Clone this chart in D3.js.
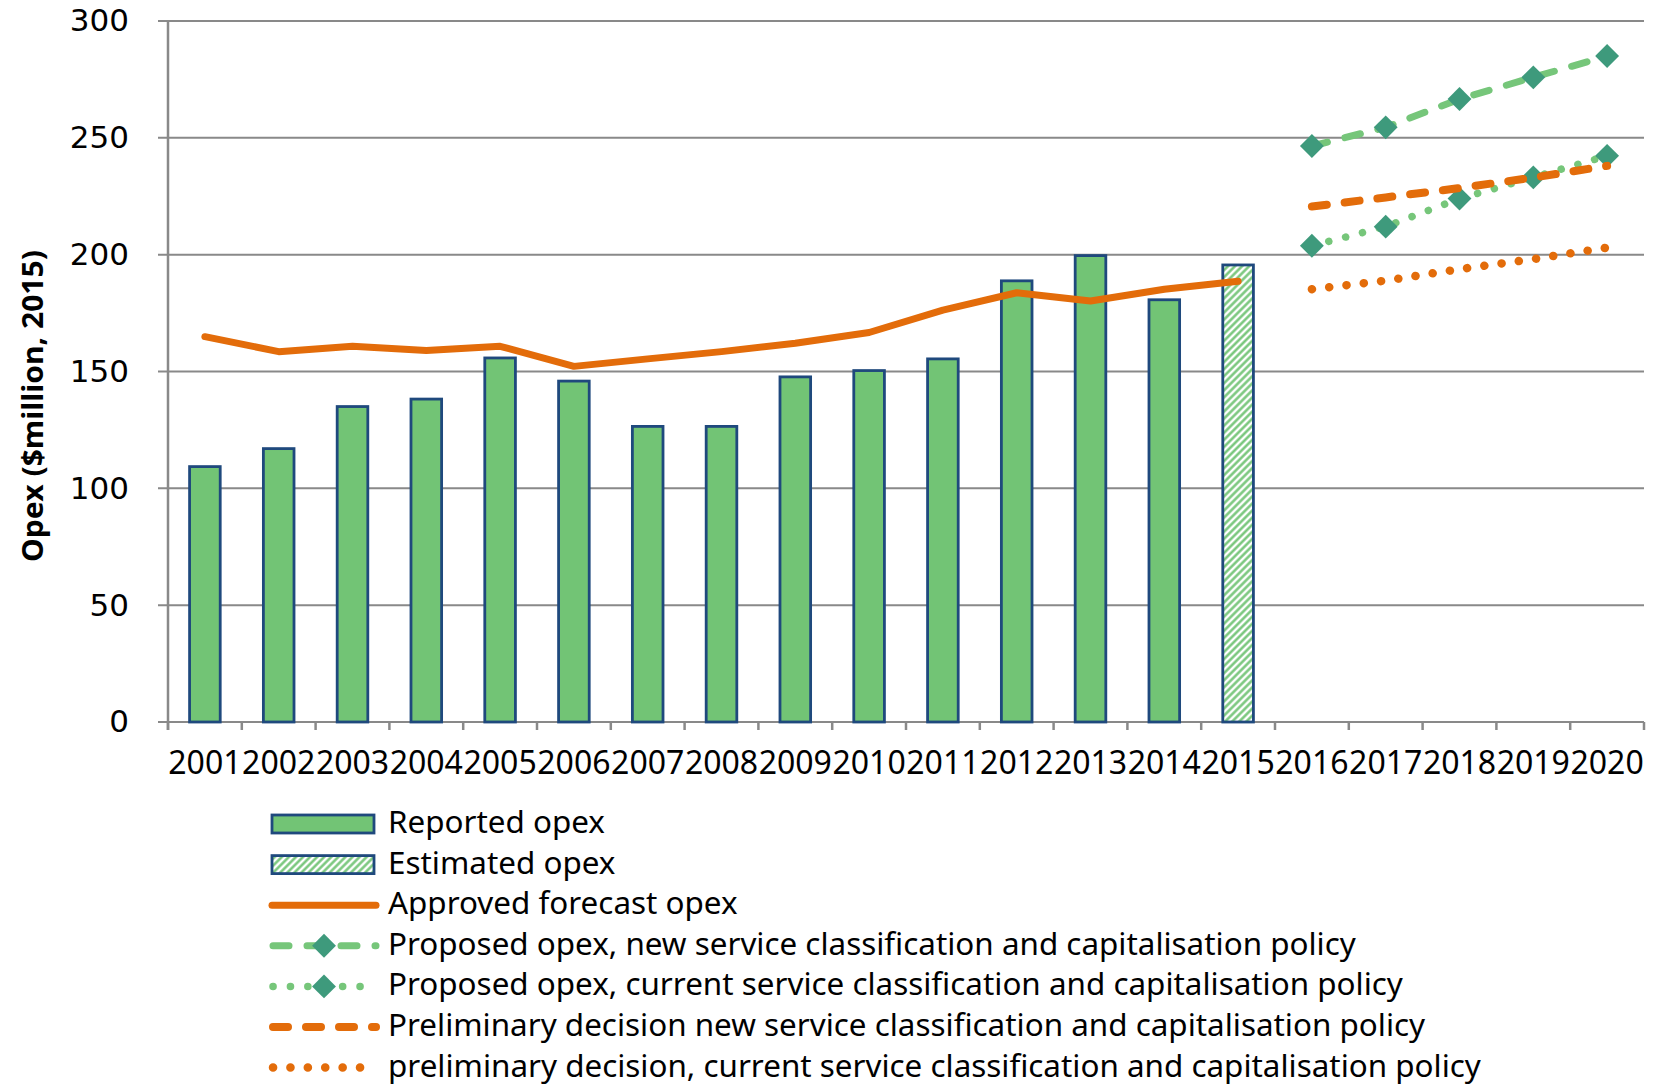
<!DOCTYPE html>
<html>
<head>
<meta charset="utf-8">
<script src="https://cdn.jsdelivr.net/npm/d3@7"></script>
<style>
body { margin: 0; background: #fff; }
svg { display: block; }
</style>
</head>
<body>
<svg width="1656" height="1087"></svg>
<script>
// categories and values
var years = ["2001", "2002", "2003", "2004", "2005", "2006", "2007", "2008", "2009", "2010",
             "2011", "2012", "2013", "2014", "2015", "2016", "2017", "2018", "2019", "2020"];
var reportedYears = ["2001", "2002", "2003", "2004", "2005", "2006", "2007", "2008", "2009", "2010",
                     "2011", "2012", "2013", "2014"];
var reportedOpex = [109.3, 117, 135, 138.2, 155.8, 145.9, 126.5, 126.5, 147.7, 150.4,
                    155.4, 188.8, 199.6, 180.7];
var estimatedYears = ["2015"];
var estimatedOpex = [195.6];
var approvedYears = ["2001", "2002", "2003", "2004", "2005", "2006", "2007", "2008", "2009", "2010",
                     "2011", "2012", "2013", "2014", "2015"];
var approvedOpex = [164.9, 158.5, 160.8, 159, 160.8, 152.2, 155.4, 158.5, 162.1, 166.7,
                    176.3, 183.7, 180.2, 185.2, 188.6];
var forecastYears = ["2016", "2017", "2018", "2019", "2020"];
var proposedNew = [246.5, 254.5, 266.6, 275.9, 285];
var proposedCurrent = [203.8, 212, 224, 233.1, 242.3];
var prelimNew = [220.6, 224.5, 228.5, 233, 238];
var prelimCurrent = [185.2, 188.9, 193.8, 198.1, 203];
var yTicks = [0, 50, 100, 150, 200, 250, 300];
var legendLabels = [
    "Reported opex",
    "Estimated opex",
    "Approved forecast opex",
    "Proposed opex, new service classification and capitalisation policy",
    "Proposed opex, current service classification and capitalisation policy",
    "Preliminary decision new service classification and capitalisation policy",
    "preliminary decision, current service classification and capitalisation policy"
];

var green = "#72c475",
    lineGreen = "#76c67a",
    blue = "#1f497d",
    orange = "#e36c0a",
    teal = "#3e9a7c",
    grid = "#898989";

var svg = d3.select("svg");
var plotLeft = 168, plotRight = 1644, plotTop = 21, plotBottom = 722;

var x = d3.scaleBand().domain(years).range([plotLeft, plotRight]);
var y = d3.scaleLinear().domain([0, 300]).range([plotBottom, plotTop]);
function cx(d) { return x(d) + x.bandwidth() / 2; }
var barW = x.bandwidth() * 0.415;

// hatch for the estimated bar
var defs = svg.append("defs");
var pat = defs.append("pattern")
    .attr("id", "hatch")
    .attr("patternUnits", "userSpaceOnUse")
    .attr("width", 5).attr("height", 10)
    .attr("patternTransform", "rotate(45)");
pat.append("rect").attr("width", 5).attr("height", 10).attr("fill", "#fff");
pat.append("line").attr("x1", 1.5).attr("x2", 1.5).attr("y1", 0).attr("y2", 10)
    .attr("stroke", green).attr("stroke-width", 2.4);

// gridlines
svg.append("g").selectAll("line").data(yTicks).join("line")
    .attr("x1", plotLeft - 10).attr("x2", plotRight)
    .attr("y1", function (d) { return y(d); })
    .attr("y2", function (d) { return y(d); })
    .attr("stroke", grid).attr("stroke-width", 2);

// vertical axis line
svg.append("line")
    .attr("x1", plotLeft).attr("x2", plotLeft)
    .attr("y1", plotTop).attr("y2", plotBottom + 8)
    .attr("stroke", grid).attr("stroke-width", 2.5);

// y labels
var yAxis = svg.append("g")
    .attr("transform", "translate(" + plotLeft + ",0)")
    .call(d3.axisLeft(y).tickValues(yTicks).tickSize(0).tickPadding(39));
yAxis.select(".domain").remove();
yAxis.selectAll("text")
    .attr("font-family", "'DejaVu Sans', Verdana, sans-serif")
    .attr("font-size", 31)
    .attr("fill", "#000");

// category boundary ticks
var bounds = years.map(function (d) { return x(d); }).concat([plotRight]);
svg.append("g").selectAll("line").data(bounds).join("line")
    .attr("x1", function (d) { return d; }).attr("x2", function (d) { return d; })
    .attr("y1", plotBottom).attr("y2", plotBottom + 8)
    .attr("stroke", grid).attr("stroke-width", 2.5);

// x labels
var xAxis = svg.append("g")
    .attr("transform", "translate(0," + plotBottom + ")")
    .call(d3.axisBottom(x).tickSize(0).tickPadding(29));
xAxis.select(".domain").remove();
xAxis.selectAll("text")
    .attr("font-family", "'Noto Sans', sans-serif")
    .attr("font-size", 32)
    .attr("fill", "#000");

// y title
svg.append("text")
    .attr("transform", "translate(43,406) rotate(-90)")
    .attr("text-anchor", "middle")
    .attr("font-family", "'Noto Sans', sans-serif")
    .attr("font-weight", "bold")
    .attr("font-size", 29)
    .attr("textLength", 312)
    .attr("lengthAdjust", "spacingAndGlyphs")
    .text("Opex ($million, 2015)");

// bars
svg.append("g").selectAll("rect").data(reportedOpex).join("rect")
    .attr("x", function (d, i) { return cx(reportedYears[i]) - barW / 2; })
    .attr("y", function (d) { return y(d); })
    .attr("width", barW)
    .attr("height", function (d) { return y(0) - y(d); })
    .attr("fill", green).attr("stroke", blue).attr("stroke-width", 2.8);

svg.append("g").selectAll("rect").data(estimatedOpex).join("rect")
    .attr("x", function (d, i) { return cx(estimatedYears[i]) - barW / 2; })
    .attr("y", function (d) { return y(d); })
    .attr("width", barW)
    .attr("height", function (d) { return y(0) - y(d); })
    .attr("fill", "url(#hatch)").attr("stroke", blue).attr("stroke-width", 2.8);

// approved line
var line = d3.line()
    .x(function (d) { return cx(d[0]); })
    .y(function (d) { return y(d[1]); });

svg.append("path")
    .attr("d", line(d3.zip(approvedYears, approvedOpex)))
    .attr("fill", "none").attr("stroke", orange).attr("stroke-width", 7)
    .attr("stroke-linejoin", "round").attr("stroke-linecap", "round");

var series = [
    { values: proposedNew, color: lineGreen, dash: "16,18", width: 7, marker: true },
    { values: proposedCurrent, color: lineGreen, dash: "0.1,17.3", width: 7.5, marker: true },
    { values: prelimNew, color: orange, dash: "15,18", width: 8, marker: false },
    { values: prelimCurrent, color: orange, dash: "0.1,17.3", width: 8.5, marker: false }
];

var diamond = d3.symbol().type(d3.symbolSquare).size(285);

series.forEach(function (s) {
    svg.append("path")
        .attr("d", line(d3.zip(forecastYears, s.values)))
        .attr("fill", "none").attr("stroke", s.color).attr("stroke-width", s.width)
        .attr("stroke-dasharray", s.dash).attr("stroke-linecap", "round");
    if (s.marker) {
        svg.append("g").selectAll("path").data(s.values).join("path")
            .attr("d", diamond)
            .attr("transform", function (d, i) {
                return "translate(" + cx(forecastYears[i]) + "," + y(d) + ") rotate(45)";
            })
            .attr("fill", teal);
    }
});

// legend
var legend = svg.append("g").attr("transform", "translate(272,824)");
var rowH = 40.6, symW = 104;

legendLabels.forEach(function (label, i) {
    var g = legend.append("g").attr("transform", "translate(0," + (i * rowH) + ")");
    if (i < 2) {
        g.append("rect")
            .attr("x", 0).attr("y", -9).attr("width", symW - 2).attr("height", 18)
            .attr("fill", i == 0 ? green : "url(#hatch)")
            .attr("stroke", blue).attr("stroke-width", 2.8);
    } else if (i == 2) {
        g.append("line").attr("x1", 0).attr("x2", symW)
            .attr("stroke", orange).attr("stroke-width", 7).attr("stroke-linecap", "round");
    } else {
        var s = series[i - 3];
        g.append("line").attr("x1", 1).attr("x2", symW)
            .attr("stroke", s.color).attr("stroke-width", s.width)
            .attr("stroke-dasharray", s.dash).attr("stroke-linecap", "round");
        if (s.marker) {
            g.append("path").attr("d", diamond)
                .attr("transform", "translate(" + (symW / 2) + ",0) rotate(45)")
                .attr("fill", teal);
        }
    }
    g.append("text")
        .attr("x", 116).attr("y", 9)
        .attr("font-family", "'Noto Sans', sans-serif")
        .attr("font-size", 31.4)
        .attr("fill", "#000")
        .text(label);
});
</script>
</body>
</html>
